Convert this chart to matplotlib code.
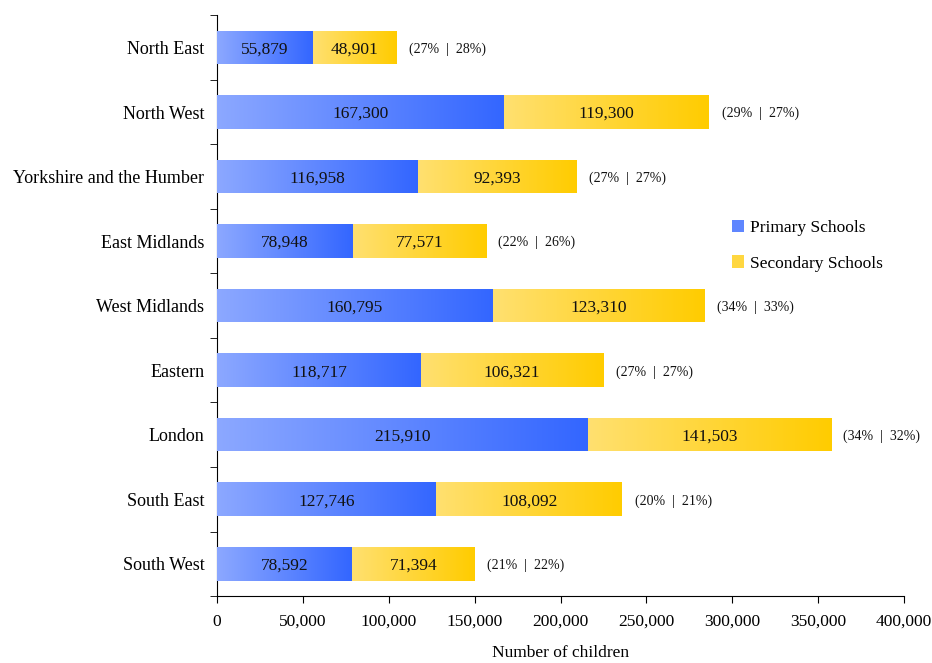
import matplotlib
matplotlib.use("Agg")
import matplotlib.pyplot as plt
import numpy as np
from matplotlib.colors import LinearSegmentedColormap
from matplotlib.patches import Patch
from matplotlib.ticker import FuncFormatter, FixedLocator

regions = ["North East", "North West", "Yorkshire and the Humber", "East Midlands",
           "West Midlands", "Eastern", "London", "South East", "South West"]
primary = [55879, 167300, 116958, 78948, 160795, 118717, 215910, 127746, 78592]
secondary = [48901, 119300, 92393, 77571, 123310, 106321, 141503, 108092, 71394]
primary_pct = [27, 29, 27, 22, 34, 27, 34, 20, 21]
secondary_pct = [28, 27, 27, 26, 33, 27, 32, 21, 22]
xticks = [0, 50000, 100000, 150000, 200000, 250000, 300000, 350000, 400000]

plt.rcParams['font.family'] = ['Liberation Serif', 'DejaVu Serif']

fig = plt.figure(figsize=(9.32, 6.63), dpi=100)
ax = fig.add_axes([0.2328, 0.101, 0.7372, 0.876])

blue_cmap = LinearSegmentedColormap.from_list("b", ["#8CA8FF", "#3366FF"])
yel_cmap = LinearSegmentedColormap.from_list("y", ["#FFE070", "#FFCC00"])
grad = np.linspace(0, 1, 256).reshape(1, -1)

y = np.arange(len(regions))
h = 0.52
b1 = ax.barh(y, primary, height=h, color="#5F86FF", zorder=2)
b2 = ax.barh(y, secondary, left=primary, height=h, color="#FFD740", zorder=2)

for bars, cmap in ((b1, blue_cmap), (b2, yel_cmap)):
    for p in bars:
        x0, y0 = p.get_x(), p.get_y()
        im = ax.imshow(grad, cmap=cmap, aspect='auto', zorder=3,
                       extent=[x0, x0 + p.get_width(), y0 + p.get_height(), y0],
                       interpolation='bilinear')
        im.set_clip_path(p)

for i in range(len(regions)):
    ax.text(primary[i] / 2, y[i], f"{primary[i]:,}", ha='center', va='center_baseline',
            fontsize=12.5, color='#111111', zorder=4)
    ax.text(primary[i] + secondary[i] / 2, y[i], f"{secondary[i]:,}", ha='center',
            va='center_baseline', fontsize=12.5, color='#111111', zorder=4)
    ax.annotate(f"({primary_pct[i]}%  |  {secondary_pct[i]}%)",
                xy=(primary[i] + secondary[i], y[i]), xytext=(9, 0),
                textcoords='offset points', ha='left', va='center_baseline', fontsize=10,
                color='#111111')

ax.set_xlim(0, 400000)
ax.set_ylim(len(regions) - 0.5, -0.5)
ax.set_xticks(xticks)
ax.xaxis.set_major_formatter(FuncFormatter(lambda v, p: f"{int(v):,}"))
ax.set_yticks(y)
ax.set_yticklabels(regions)
ax.yaxis.set_minor_locator(FixedLocator(np.arange(-0.5, len(regions), 1.0)))
ax.tick_params(axis='y', which='major', length=0, pad=9, labelsize=13)
ax.tick_params(axis='y', which='minor', length=5, direction='out')
ax.tick_params(axis='x', which='major', length=5, direction='out', pad=8, labelsize=12.5)
for s in ('top', 'right'):
    ax.spines[s].set_visible(False)
ax.set_xlabel("Number of children", fontsize=12.5, labelpad=11)

handles = [Patch(facecolor="#5F86FF", label="Primary Schools"),
           Patch(facecolor="#FFD740", label="Secondary Schools")]
ax.legend(handles=handles, loc='center left', bbox_to_anchor=(0.727, 0.603), frameon=False,
          fontsize=12.5, handlelength=0.7, handleheight=0.7, handletextpad=0.35, labelspacing=1.1)

fig.savefig("out.png", dpi=100)
